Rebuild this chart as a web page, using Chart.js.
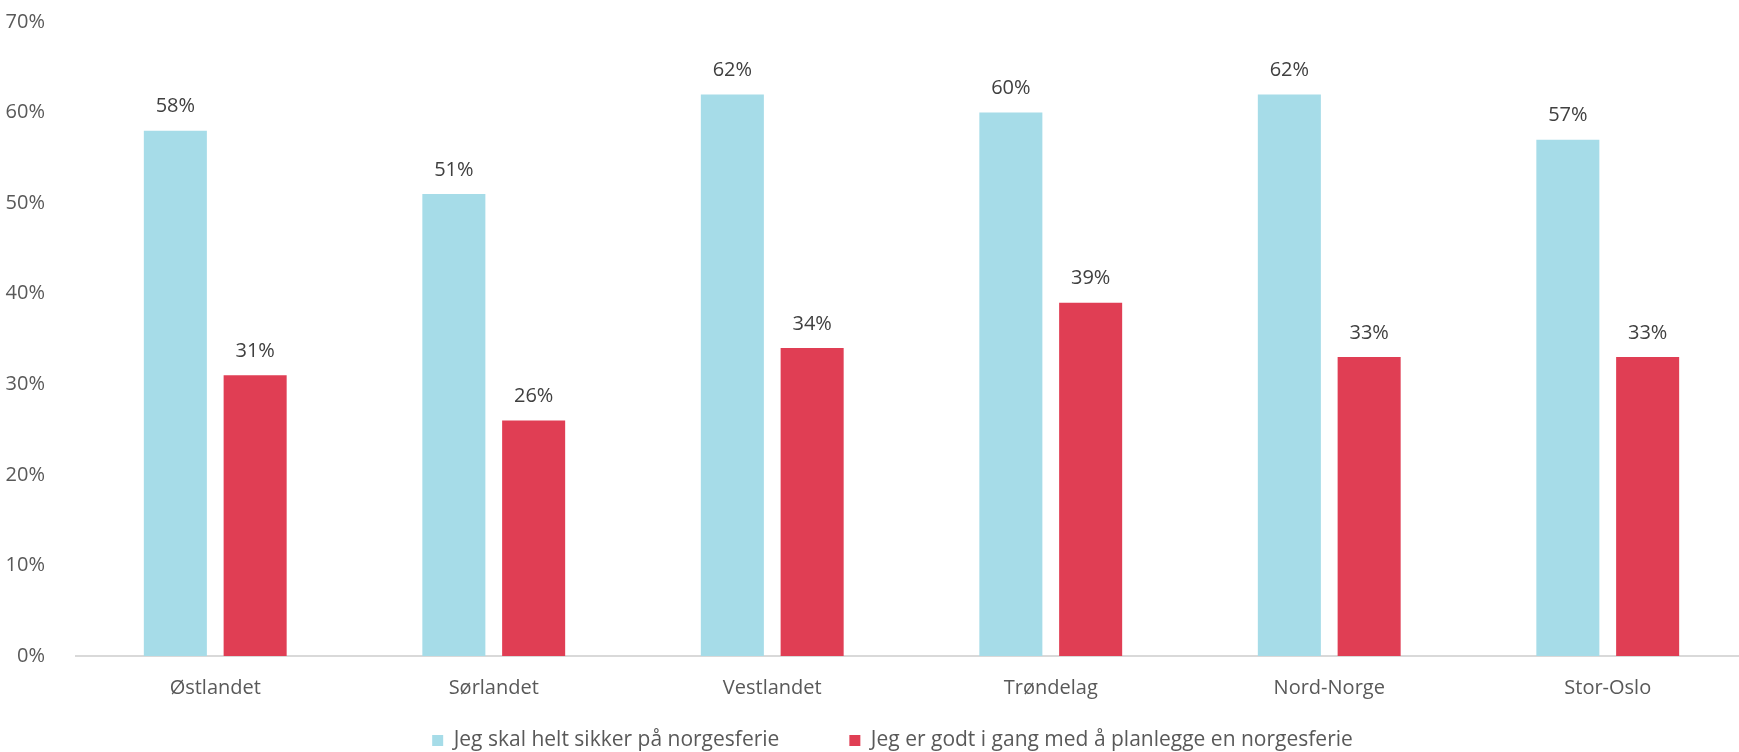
<!DOCTYPE html>
<html>
<head>
<meta charset="utf-8">
<script src="https://cdn.jsdelivr.net/npm/chart.js@4"></script>
<style>
  html, body { margin: 0; padding: 0; background: #fff; overflow: hidden; }
  #wrap { width: 1750px; height: 774px; margin-top: -13px; }
</style>
</head>
<body>
<div id="wrap"><canvas id="chart" width="1750" height="774"></canvas></div>
<script>
// Regioner og andeler (%)
const regioner   = ['Østlandet', 'Sørlandet', 'Vestlandet', 'Trøndelag', 'Nord-Norge', 'Stor-Oslo'];
const sikker     = [58, 51, 62, 60, 62, 57];
const planlegger = [31, 26, 34, 39, 33, 33];
const serieNavn  = ['Jeg skal helt sikker på norgesferie', 'Jeg er godt i gang med å planlegge en norgesferie'];
const yTicks     = [0, 10, 20, 30, 40, 50, 60, 70];

const FONT = "'Open Sans', sans-serif";

// Enkel plugin for verdietiketter over søylene
const verdiEtiketter = {
  id: 'verdiEtiketter',
  afterDatasetsDraw(chart) {
    const ctx = chart.ctx;
    ctx.save();
    ctx.font = '20px ' + FONT;
    ctx.fillStyle = '#404040';
    ctx.textAlign = 'center';
    ctx.textBaseline = 'middle';
    chart.data.datasets.forEach((ds, i) => {
      chart.getDatasetMeta(i).data.forEach((bar, j) => {
        ctx.fillText(ds.data[j] + '%', bar.x, bar.y - 24);
      });
    });
    ctx.restore();
  }
};

// Flytt legenden litt mot høyre (som i originalen)
const legendeForskyv = {
  id: 'legendeForskyv',
  afterLayout(chart) {
    chart.legend.left  += 19;
    chart.legend.right += 19;
  }
};

new Chart(document.getElementById('chart'), {
  type: 'bar',
  data: {
    labels: regioner,
    datasets: [
      // ekstra mellomrom gir avstand mellom legendene
      { label: serieNavn[0] + '           ', data: sikker,     backgroundColor: '#A6DCE8' },
      { label: serieNavn[1], data: planlegger, backgroundColor: '#E03E54' }
    ]
  },
  options: {
    responsive: false,
    animation: false,
    categoryPercentage: 0.573,
    barPercentage: 0.79,
    layout: { padding: { top: 8, right: 3, left: 0, bottom: 0 } },
    plugins: {
      legend: {
        position: 'bottom',
        labels: {
          font: { family: FONT, size: 21 },
          color: '#595959',
          boxWidth: 11,
          boxHeight: 11,
          padding: 10
        }
      },
      tooltip: { enabled: false }
    },
    scales: {
      x: {
        grid: { display: false, drawTicks: false },
        border: { color: '#D9D9D9', width: 2 },
        ticks: { font: { family: FONT, size: 20 }, color: '#595959', padding: 20 }
      },
      y: {
        min: 0,
        max: 70,
        afterBuildTicks: s => { s.ticks = yTicks.map(v => ({ value: v })); },
        afterFit: s => { s.width = 76; },
        grid: { display: false },
        border: { display: false },
        ticks: {
          font: { family: FONT, size: 20 },
          color: '#595959',
          padding: 23,
          callback: v => v + '%'
        }
      }
    }
  },
  plugins: [verdiEtiketter, legendeForskyv]
});
</script>
</body>
</html>
